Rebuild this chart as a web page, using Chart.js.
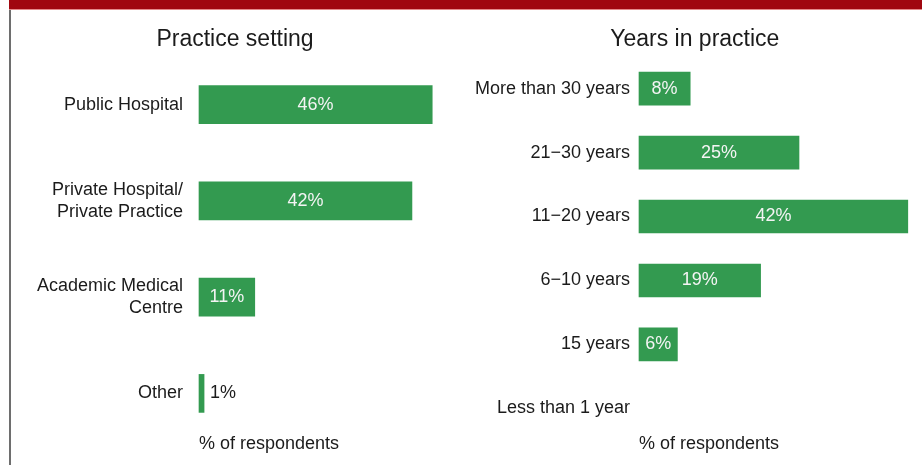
<!DOCTYPE html>
<html>
<head>
<meta charset="utf-8">
<script src="https://cdn.jsdelivr.net/npm/chart.js@4.4.1/dist/chart.umd.min.js"></script>
<style>
  html, body { margin: 0; padding: 0; background: #fff; }
  body { width: 922px; height: 465px; position: relative; overflow: hidden; font-family: "Liberation Sans", Arial, sans-serif; }
  .band { position: absolute; left: 9px; top: 0; width: 913px; height: 9px; background: #a0070f; border-bottom: 1px solid #e58a8a; }
  .edge { position: absolute; left: 9px; top: 10px; width: 2px; height: 455px; background: #6e6e6e; }
  .box { position: absolute; top: 0; height: 465px; }
  #left-box { left: 12px; width: 449px; }
  #right-box { left: 440px; width: 482px; }
</style>
</head>
<body>
<div class="band"></div>
<div class="edge"></div>
<div class="box" id="left-box"><canvas id="setting-chart"></canvas></div>
<div class="box" id="right-box"><canvas id="years-chart"></canvas></div>
<script>
// data
const settingLabels = ['Public Hospital', ['Private Hospital/', 'Private Practice'], ['Academic Medical', 'Centre'], 'Other'];
const settingValues = [46, 42, 11, 1];

const yearsLabels = ['More than 30 years', '21\u221230 years', '11\u221220 years', '6\u221210 years', '15 years', 'Less than 1 year'];
const yearsValues = [8, 25, 42, 19, 6, null];

const green = '#339a50';
const ink = '#1b1b1b';
const fontFamily = '"Liberation Sans", Arial, Helvetica, sans-serif';

// draws the % labels: white inside the bar, dark beside it when it does not fit
const valueLabels = {
  id: 'valueLabels',
  afterDatasetsDraw(chart) {
    const ctx = chart.ctx;
    const meta = chart.getDatasetMeta(0);
    const data = chart.data.datasets[0].data;
    ctx.save();
    ctx.font = '18px ' + fontFamily;
    ctx.textBaseline = 'middle';
    meta.data.forEach((bar, i) => {
      if (data[i] == null) return;
      const text = data[i] + '%';
      const w = ctx.measureText(text).width;
      const barW = bar.x - bar.base;
      if (barW >= w + 8) {
        ctx.fillStyle = '#f4f4f4';
        ctx.textAlign = 'center';
        ctx.fillText(text, (bar.x + bar.base) / 2, bar.y);
      } else {
        ctx.fillStyle = ink;
        ctx.textAlign = 'left';
        ctx.fillText(text, bar.x + 6, bar.y);
      }
    });
    ctx.restore();
  }
};

function makeChart(id, opts) {
  return new Chart(document.getElementById(id), {
    type: 'bar',
    data: {
      labels: opts.labels,
      datasets: [{
        data: opts.values,
        backgroundColor: green,
        borderWidth: 0,
        barThickness: opts.thickness,
        clip: false
      }]
    },
    options: {
      indexAxis: 'y',
      responsive: true,
      maintainAspectRatio: false,
      animation: false,
      layout: { padding: { left: opts.padLeft, right: opts.padRight, top: 0, bottom: 0 } },
      plugins: {
        legend: { display: false },
        tooltip: { enabled: false },
        title: {
          display: true,
          text: opts.title,
          color: ink,
          font: { family: fontFamily, size: 23, weight: 'normal', lineHeight: 1.2 },
          padding: { top: 26, bottom: opts.titleGap }
        }
      },
      scales: {
        x: {
          min: 0,
          max: opts.max,
          ticks: { display: false },
          grid: { display: false, drawTicks: false },
          border: { display: false },
          title: {
            display: true,
            text: '% of respondents',
            align: 'start',
            color: ink,
            font: { family: fontFamily, size: 18, lineHeight: 1.2 },
            padding: { top: opts.xTitleTop, bottom: 10 }
          }
        },
        y: {
          offset: false,
          grid: { display: false, drawTicks: false },
          border: { display: false },
          ticks: {
            color: ink,
            autoSkip: false,
            padding: opts.tickPad,
            font: { family: fontFamily, size: 18, lineHeight: 1.2 }
          },
          afterFit(scale) {
            scale.width = opts.axisWidth;
            scale.paddingTop = 0;
            scale.paddingBottom = 0;
          }
        }
      }
    },
    plugins: [valueLabels]
  });
}

// left: area 199..452.5, rows 104..393
makeChart('setting-chart', {
  labels: settingLabels,
  values: settingValues,
  title: 'Practice setting',
  max: 50,
  thickness: 38,
  padLeft: 5.5,
  padRight: 8.5,
  axisWidth: 181.5,
  tickPad: 16,
  titleGap: 51,
  xTitleTop: 40
});

// right: area 639..920.6, rows 88..408
makeChart('years-chart', {
  labels: yearsLabels,
  values: yearsValues,
  title: 'Years in practice',
  max: 44,
  thickness: 33,
  padLeft: 29,
  padRight: 1.4,
  axisWidth: 170,
  tickPad: 9,
  titleGap: 35,
  xTitleTop: 25
});
</script>
</body>
</html>
